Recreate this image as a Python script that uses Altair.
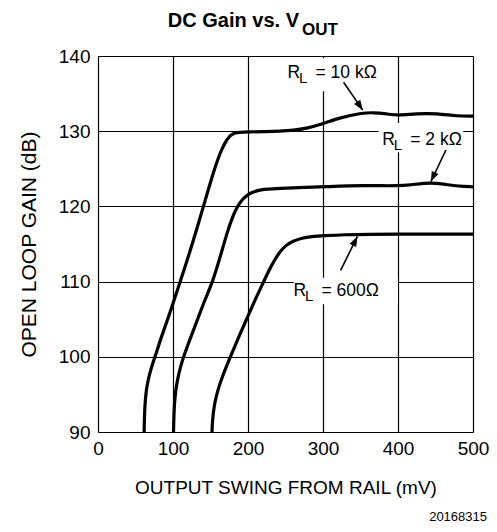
import altair as alt
import pandas as pd

# ---- curve data (output swing mV, open loop gain dB) ----
x_10k = [61.5, 61.8, 62.5, 64, 66.5, 70, 76, 85, 94, 101, 109, 124, 140, 154, 163, 170, 175, 179, 183, 188, 200, 220, 243, 260, 279, 300, 323, 350, 368, 385, 400, 425, 452, 479, 500]
y_10k = [90, 91.5, 93.5, 95.3, 96.8, 98.2, 100, 102.8, 105.3, 107.4, 109.8, 114.4, 119.8, 124.6, 127.2, 128.6, 129.3, 129.6, 129.8, 129.85, 129.9, 129.95, 130.0, 130.1, 130.4, 131.0, 131.8, 132.4, 132.5, 132.3, 132.1, 132.35, 132.35, 132.0, 132.0]

x_2k = [100.7, 101, 101.7, 103.3, 106, 109.5, 114, 124, 134, 143, 153, 163, 172, 180, 186, 192, 199, 206, 214, 224, 243, 266, 300, 354, 400, 420, 443, 465, 480, 500]
y_2k = [90, 91.5, 93.5, 95.3, 97, 98.5, 100, 102.7, 105.3, 107.7, 110, 113.3, 116.5, 118.8, 120.0, 120.9, 121.5, 121.9, 122.15, 122.3, 122.4, 122.5, 122.6, 122.8, 122.7, 122.9, 123.2, 122.9, 122.7, 122.6]

x_600 = [152, 152.5, 154, 156, 159, 165, 176.5, 188, 199, 210, 221, 228, 235, 242, 250, 260, 272, 285, 300, 330, 360, 400, 450, 500]
y_600 = [90, 91.3, 92.8, 94.0, 95.3, 97.2, 100, 102.7, 105.2, 107.7, 110, 111.5, 112.8, 113.9, 114.8, 115.4, 115.8, 116.0, 116.1, 116.25, 116.3, 116.3, 116.3, 116.3]

x_ticks = [0, 100, 200, 300, 400, 500]
y_ticks = [90, 100, 110, 120, 130, 140]

# ---- annotations ----
label_rest = [" = 10 kΩ", " = 2 kΩ", " = 600Ω"]
label_x = [252.7, 379, 260.6]
label_y = [137.1, 128.2, 108.1]
box_x1 = [250, 374, 261]
box_x2 = [384, 487, 400]
box_y1 = [135.3, 127.2, 107.0]
box_y2 = [139.7, 131.1, 110.5]
arrow_x1 = [327.5, 463.9, 323.5]
arrow_y1 = [136.5, 127.5, 111.5]
arrow_x2 = [353, 443.9, 345.9]
arrow_y2 = [132.8, 123.3, 116.0]
arrow_angle = [146, 205, 27]

FONT = "Liberation Sans"

curves = pd.concat([
    pd.DataFrame({"x": x_10k, "y": y_10k, "s": "10k"}),
    pd.DataFrame({"x": x_2k, "y": y_2k, "s": "2k"}),
    pd.DataFrame({"x": x_600, "y": y_600, "s": "600"}),
])

xs = alt.Scale(domain=[0, 500], nice=False)
ys = alt.Scale(domain=[90, 140], nice=False)

lines = alt.Chart(curves).mark_line(color="black", strokeWidth=3.2, interpolate="basis").encode(
    x=alt.X("x:Q", scale=xs,
            axis=alt.Axis(values=x_ticks, title="OUTPUT SWING FROM RAIL (mV)", grid=True,
                          gridColor="black", gridOpacity=1, gridWidth=1.2,
                          domain=False, ticks=False, labelPadding=7,
                          labelFont=FONT, labelFontSize=19, labelColor="black",
                          titleFont=FONT, titleFontSize=19, titleFontWeight="normal",
                          titleColor="black", titlePadding=20, labelFlush=False)),
    y=alt.Y("y:Q", scale=ys,
            axis=alt.Axis(values=y_ticks, title="OPEN LOOP GAIN (dB)", grid=True,
                          gridColor="black", gridOpacity=1, gridWidth=1.2,
                          domain=False, ticks=False, labelPadding=8,
                          labelFont=FONT, labelFontSize=19, labelColor="black",
                          titleFont=FONT, titleFontSize=21, titleFontWeight="normal",
                          titleColor="black", titlePadding=19, labelFlush=False)),
    detail="s:N",
)

ann = pd.DataFrame({
    "lx": label_x, "ly": label_y, "rest": label_rest,
    "bx1": box_x1, "bx2": box_x2, "by1": box_y1, "by2": box_y2,
    "ax1": arrow_x1, "ay1": arrow_y1, "ax2": arrow_x2, "ay2": arrow_y2,
    "ang": arrow_angle,
})
base = alt.Chart(ann)

boxes = base.mark_rect(color="white").encode(
    x=alt.X("bx1:Q", scale=xs), x2="bx2:Q",
    y=alt.Y("by1:Q", scale=ys), y2="by2:Q")

txt_r = base.mark_text(text="R", align="left", baseline="alphabetic", font=FONT, fontSize=17.5, color="black").encode(
    x=alt.X("lx:Q", scale=xs), y=alt.Y("ly:Q", scale=ys))
txt_l = base.mark_text(text="L", align="left", baseline="alphabetic", font=FONT, fontSize=15, color="black", dx=11.5, dy=5).encode(
    x=alt.X("lx:Q", scale=xs), y=alt.Y("ly:Q", scale=ys))
txt_rest = base.mark_text(align="left", baseline="alphabetic", font=FONT, fontSize=17.5, color="black", dx=28).encode(
    x=alt.X("lx:Q", scale=xs), y=alt.Y("ly:Q", scale=ys), text="rest:N")

shafts = base.mark_rule(color="black", strokeWidth=1.6).encode(
    x=alt.X("ax1:Q", scale=xs), x2="ax2:Q",
    y=alt.Y("ay1:Q", scale=ys), y2="ay2:Q")
heads = base.mark_point(shape="M0,0 L0.75,2 L-0.75,2 Z", filled=True, color="black", opacity=1, size=100).encode(
    x=alt.X("ax2:Q", scale=xs), y=alt.Y("ay2:Q", scale=ys), angle=alt.Angle("ang:Q", scale=None))

title_main = alt.Chart(pd.DataFrame({"t": ["DC Gain vs. V"]})).mark_text(
    align="right", baseline="alphabetic", font=FONT, fontSize=20, fontWeight="bold", color="black").encode(
    x=alt.value(201), y=alt.value(-29), text="t:N")
title_sub = alt.Chart(pd.DataFrame({"t": ["OUT"]})).mark_text(
    align="left", baseline="alphabetic", font=FONT, fontSize=17, fontWeight="bold", color="black").encode(
    x=alt.value(204), y=alt.value(-21), text="t:N")
footer = alt.Chart(pd.DataFrame({"t": ["20168315"]})).mark_text(
    align="right", baseline="alphabetic", font=FONT, fontSize=13, color="black").encode(
    x=alt.value(389), y=alt.value(465), text="t:N")

chart = alt.layer(lines, boxes, txt_r, txt_l, txt_rest, shafts, heads, title_main, title_sub, footer).properties(
    width=375, height=376,
    padding={"left": 90, "top": 48, "right": 16, "bottom": 92},
    autosize=alt.AutoSizeParams(type="none"),
).configure_view(stroke="black", strokeWidth=2.2).configure(background="white")

chart.save("out.html", embed_options={"renderer": "svg", "actions": False})
